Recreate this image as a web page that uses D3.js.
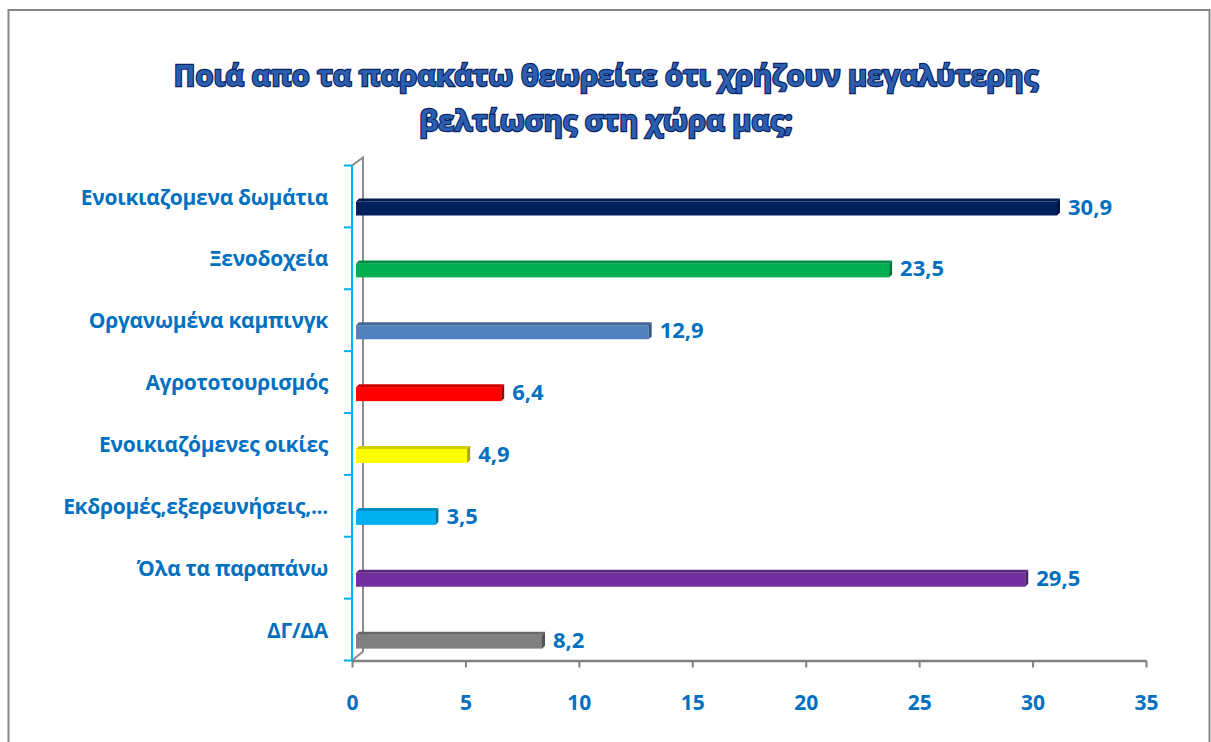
<!DOCTYPE html>
<html>
<head>
<meta charset="utf-8">
<script src="https://cdn.jsdelivr.net/npm/d3@7"></script>
<style>
    body { margin: 0; background: #fff; }
    svg { display: block; }
    text { font-family: "Open Sans", "Noto Sans", sans-serif; font-weight: bold; }
</style>
</head>
<body>
<div id="chart"></div>
<script>
const categories = [
    'Ενοικιαζομενα δωμάτια',
    'Ξενοδοχεία',
    'Οργανωμένα καμπινγκ',
    'Αγροτοτουρισμός',
    'Ενοικιαζόμενες οικίες',
    'Εκδρομές,εξερευνήσεις,...',
    'Όλα τα παραπάνω',
    'ΔΓ/ΔΑ'
];
const values = [30.9, 23.5, 12.9, 6.4, 4.9, 3.5, 29.5, 8.2];
const barColors = ['#002060', '#00B050', '#4F81BD', '#FF0000', '#FFFF00', '#00B0F0', '#7030A0', '#808080'];
const xTicks = [0, 5, 10, 15, 20, 25, 30, 35];
const titleLines = ['Ποιά απο τα παρακάτω θεωρείτε ότι χρήζουν μεγαλύτερης', 'βελτίωσης στη χώρα μας;'];

const width = 1211;
const height = 742;
const labelBlue = '#0070C0';

const svg = d3.select('#chart')
    .append('svg')
    .attr('width', width)
    .attr('height', height);

// Outer frame
svg.append('rect')
    .attr('x', 8.5)
    .attr('y', 10)
    .attr('width', 1201)
    .attr('height', 740)
    .attr('fill', 'none')
    .attr('stroke', '#868686')
    .attr('stroke-width', 2);

// Title
const title = svg.append('g').attr('class', 'title');
title.selectAll('text')
    .data(titleLines)
    .join('text')
    .attr('x', 606)
    .attr('y', (d, i) => 86 + i * 45)
    .attr('text-anchor', 'middle')
    .attr('font-size', 29)
    .attr('fill', '#2b5fae')
    .attr('stroke', '#0b2466')
    .attr('stroke-width', 2.4)
    .attr('paint-order', 'stroke')
    .text(d => d);

// Scales
const x = d3.scaleLinear()
    .domain([0, 35])
    .range([352, 1146]);

const y = d3.scaleBand()
    .domain(categories)
    .range([165.5, 660.5])
    .padding(0);

const x0 = x(0);
const yBottom = y.range()[1];
const yTop = y.range()[0];

// 3D back wall line
svg.append('path')
    .attr('d', `M${x0},${yTop} L${x0 + 11},${yTop - 8} L${x0 + 11},${yBottom - 9} L${x0},${yBottom}`)
    .attr('fill', 'none')
    .attr('stroke', '#8c8c8c')
    .attr('stroke-width', 2);

// X axis
const xAxis = svg.append('g')
    .attr('class', 'x-axis')
    .attr('transform', `translate(0,${yBottom})`)
    .call(d3.axisBottom(x).tickValues(xTicks).tickSize(7).tickPadding(28).tickSizeOuter(0));

xAxis.select('.domain').attr('stroke', '#808080').attr('stroke-width', 2.5);
xAxis.selectAll('.tick line').attr('stroke', '#808080').attr('stroke-width', 2);
xAxis.selectAll('.tick text')
    .attr('fill', labelBlue)
    .attr('font-size', 21)
    .attr('font-family', '"Open Sans", sans-serif')
    .attr('font-weight', 'bold');

// Y axis
const yTickPos = categories.map(c => y(c)).concat([yBottom]);
const yAxis = svg.append('g').attr('class', 'y-axis');
yAxis.append('line')
    .attr('x1', x0).attr('x2', x0)
    .attr('y1', yTop).attr('y2', yBottom)
    .attr('stroke', '#00B0F0')
    .attr('stroke-width', 2);
yAxis.selectAll('.ytick')
    .data(yTickPos)
    .join('line')
    .attr('class', 'ytick')
    .attr('x1', x0 - 8).attr('x2', x0)
    .attr('y1', d => d).attr('y2', d => d)
    .attr('stroke', '#00B0F0')
    .attr('stroke-width', 2);

yAxis.selectAll('.ylabel')
    .data(categories)
    .join('text')
    .attr('class', 'ylabel')
    .attr('x', 328)
    .attr('y', d => y(d) + 39)
    .attr('text-anchor', 'end')
    .attr('font-size', 21)
    .attr('letter-spacing', -0.3)
    .attr('fill', labelBlue)
    .text(d => d);

// Bars (flat 3D look: front, top and side faces)
const barOffset = 33;
const barH = 17;
const depth = 3;
const data = categories.map((c, i) => ({ name: c, value: values[i], color: barColors[i] }));

const bars = svg.append('g')
    .attr('class', 'bars')
    .selectAll('g')
    .data(data)
    .join('g');

bars.append('rect')
    .attr('x', x0 + 4)
    .attr('y', d => y(d.name) + barOffset + depth)
    .attr('width', d => x(d.value) - x0)
    .attr('height', barH - depth)
    .attr('fill', d => d.color);

bars.append('path')
    .attr('d', d => {
        const t = y(d.name) + barOffset;
        const xe = x(d.value) + 4;
        return `M${x0 + 4},${t + depth} L${x0 + 4 + depth},${t} L${xe + depth},${t} L${xe},${t + depth} Z`;
    })
    .attr('fill', d => d3.color(d.color).darker(0.6));

bars.append('path')
    .attr('d', d => {
        const t = y(d.name) + barOffset;
        const xe = x(d.value) + 4;
        return `M${xe},${t + depth} L${xe + depth},${t} L${xe + depth},${t + barH - depth} L${xe},${t + barH} Z`;
    })
    .attr('fill', d => d3.color(d.color).darker(1.2));

// Value labels
bars.append('text')
    .attr('x', d => x(d.value) + 15)
    .attr('y', d => y(d.name) + barOffset + 16)
    .attr('font-size', 22)
    .attr('fill', labelBlue)
    .text(d => String(d.value).replace('.', ','));
</script>
</body>
</html>
